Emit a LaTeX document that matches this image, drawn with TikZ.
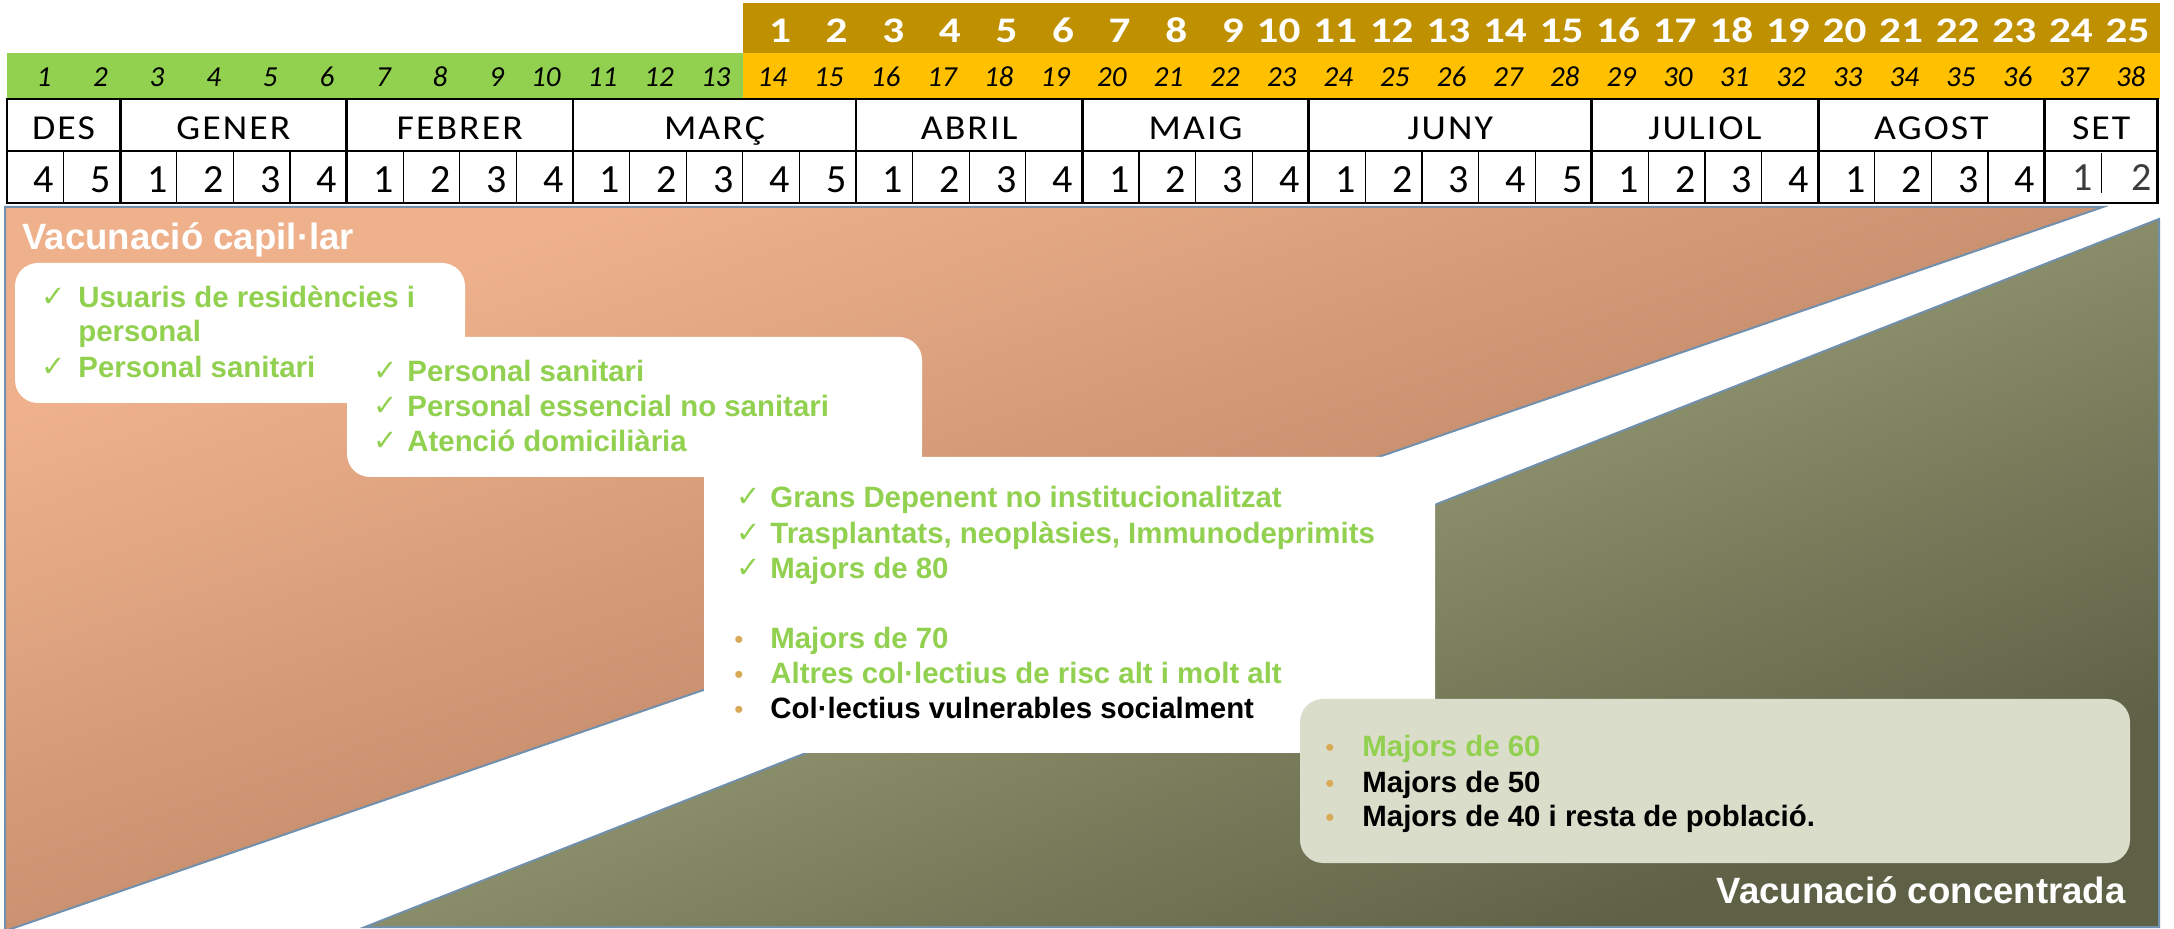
\documentclass[tikz,border=0pt]{standalone}
\usepackage{fontspec}
\setmainfont{Liberation Sans}
\newfontfamily\calib{Carlito}
\newfontfamily\calibw{Carlito}[FakeStretch=1.2]
\newfontfamily\calibls{Carlito}[FakeStretch=1.08,LetterSpace=6]
\newfontfamily\symf{DejaVu Sans}
\definecolor{vgreen}{HTML}{92D050}
\definecolor{goldband}{HTML}{BF9000}
\definecolor{yellowband}{HTML}{FFC000}
\definecolor{orangeA}{HTML}{EEB18C}
\definecolor{orangeM}{HTML}{CB9171}
\definecolor{orangeB}{HTML}{A87356}
\definecolor{oliveA}{HTML}{B4B88C}
\definecolor{oliveM}{HTML}{8B8F67}
\definecolor{oliveB}{HTML}{5E6145}
\definecolor{outl}{HTML}{7190AE}
\definecolor{boxgray}{HTML}{DBDDCB}
\definecolor{bulletc}{HTML}{D8AA57}
\definecolor{setgray}{HTML}{3C3C3C}
\begin{document}
\begin{tikzpicture}[x=0.5pt,y=-0.5pt,
  thk/.style={line width=1.4pt, line cap=rect},
  thn/.style={line width=0.65pt},
  goldnum/.style={font=\calibw\bfseries\fontsize{18}{18}\selectfont, text=white, anchor=base east, inner sep=0},
  weeknum/.style={font=\calib\itshape\fontsize{14.5}{14.5}\selectfont, text=black, anchor=base east, inner sep=0},
  monthname/.style={font=\calibls\fontsize{17.5}{17.5}\selectfont, anchor=base, inner sep=0},
  wk/.style={font=\calib\fontsize{20}{20}\selectfont, anchor=base east, inner sep=0},
  region/.style={draw=outl, line width=1pt, line join=miter},
  boxw/.style={fill=white, rounded corners=11.5pt},
  boxg/.style={fill=boxgray, rounded corners=11.5pt},
  item/.style={font=\bfseries\fontsize{14.7}{17}\selectfont, text=vgreen, anchor=base west, inner sep=0},
  itemk/.style={item, text=black},
  chk/.style={font=\symf\fontsize{14.5}{14.5}\selectfont, text=vgreen, anchor=base west, inner sep=0},
  blt/.style={font=\fontsize{13}{13}\selectfont, text=bulletc, anchor=base west, inner sep=0},
  ttl/.style={font=\bfseries\fontsize{18.3}{20}\selectfont, text=white, inner sep=0}
]
\useasboundingbox (0,0) rectangle (2174,929);
\fill[white] (0,0) rectangle (2174,929);

% ---------- table bands ----------
\fill[goldband] (742.8,3) rectangle (2160,53);
\fill[vgreen] (7,53) rectangle (742.8,99);
\fill[yellowband] (742.8,53) rectangle (2160,99);

\foreach \k in {1,...,25}
  \node[goldnum] (g\k) at ({7+(13+\k)*56.6-8},42.7) {\k};
\foreach \i in {1,...,38}
  \node[weeknum] (n\i) at ({7+\i*56.6-12},86.7) {\i};

% ---------- month row ----------
\foreach \a/\b/\t [count=\k] in {0/2/DES,2/6/GENER,6/10/FEBRER,10/15/MARÇ,15/19/ABRIL,19/23/MAIG,23/28/JUNY,28/32/JULIOL,32/36/AGOST,36/38/SET}
  \node[monthname] (m\k) at ({7+(\a+\b)*28.3},140) {\t};

% ---------- week row ----------
\foreach \w [count=\i] in {4,5,1,2,3,4,1,2,3,4,1,2,3,4,5,1,2,3,4,1,2,3,4,1,2,3,4,5,1,2,3,4,1,2,3,4}
  \node[wk] (w\i) at ({7+\i*56.6-9},192.7) {\w};
\node[wk, text=setgray] (w37) at ({7+37*56.6-8},191) {1};
\node[wk, text=setgray] (w38) at ({7+38*56.6-6},191) {2};

% ---------- table lines ----------
\foreach \c in {1,3,4,5,7,8,9,11,12,13,14,16,17,18,20,21,22,24,25,26,27,29,30,31,33,34,35}
  \draw[thn] ({7+\c*56.6},151) -- ({7+\c*56.6},203);
\draw[thn] ({7+37*56.6},153) -- ({7+37*56.6},193);
\foreach \c in {0,2,6,10,15,19,23,28,32,36,38}
  \draw[thk] ({7+\c*56.6},99) -- ({7+\c*56.6},203);
\foreach \yy in {99,151,203}
  \draw[thk] (7,\yy) -- (2157.8,\yy);

% ---------- regions (gradient scaled with the shape) ----------
\begin{scope}[transform canvas={xscale=2.8978}]
  \shade[top color=orangeA, middle color=orangeM, bottom color=orangeB, shading angle=45]
    ({5/2.8978},207) -- ({2103/2.8978},207) -- ({5/2.8978},931) -- cycle;
\end{scope}
\begin{scope}[transform canvas={xscale=2.5339}]
  \shade[top color=oliveA, middle color=oliveM, bottom color=oliveB, shading angle=45]
    ({2159/2.5339},219) -- ({2159/2.5339},927) -- ({365/2.5339},927) -- cycle;
\end{scope}
\draw[region] (5,207) -- (2103,207) -- (5,931) -- cycle;
\draw[region] (2159,219) -- (2159,927) -- (365,927) -- cycle;

% ---------- boxes ----------
\path[boxw] (347,337) rectangle (922,477);
\path[boxw] (15,263) rectangle (465,403);
\path[boxw] (704,457) rectangle (1435,753);
\path[boxg] (1300,699) rectangle (2130,863);

% ---------- titles ----------
\node[ttl, anchor=base west] (t1) at (22,250) {Vacunació capil·lar};
\node[ttl, anchor=base east] (t2) at (2126,903) {Vacunació concentrada};

% ---------- box 1 ----------
\node[chk] (c1a) at (41,307) {✓};
\node[item] (b1a) at (78,308) {Usuaris de residències i};
\node[item] (b1b) at (78,342) {personal};
\node[chk] (c1c) at (41,377) {✓};
\node[item] (b1c) at (78,378) {Personal sanitari};

% ---------- box 2 ----------
\node[chk] (c2a) at (373,381) {✓};
\node[item] (b2a) at (407,382) {Personal sanitari};
\node[chk] (c2b) at (373,416) {✓};
\node[item] (b2b) at (407,417) {Personal essencial no sanitari};
\node[chk] (c2c) at (373,451) {✓};
\node[item] (b2c) at (407,452) {Atenció domiciliària};

% ---------- box 3 ----------
\node[chk] (c3a) at (736,507) {✓};
\node[item] (b3a) at (770,508) {Grans Depenent no institucionalitzat};
\node[chk] (c3b) at (736,543) {✓};
\node[item] (b3b) at (770,544) {Trasplantats, neoplàsies, Immunodeprimits};
\node[chk] (c3c) at (736,578) {✓};
\node[item] (b3c) at (770,579) {Majors de 80};
\node[blt] (d3d) at (734,649) {•};
\node[item] (b3d) at (770,649) {Majors de 70};
\node[blt] (d3e) at (734,684) {•};
\node[item] (b3e) at (770,684) {Altres col·lectius de risc alt i molt alt};
\node[blt] (d3f) at (734,719) {•};
\node[itemk] (b3f) at (770,719) {Col·lectius vulnerables socialment};

% ---------- box 4 ----------
\node[blt] (d4a) at (1325,757) {•};
\node[item] (b4a) at (1362,757) {Majors de 60};
\node[blt] (d4b) at (1325,792) {•};
\node[itemk] (b4b) at (1362,792) {Majors de 50};
\node[blt] (d4c) at (1325,827) {•};
\node[itemk] (b4c) at (1362,827) {Majors de 40 i resta de població.};
\end{tikzpicture}
\end{document}
